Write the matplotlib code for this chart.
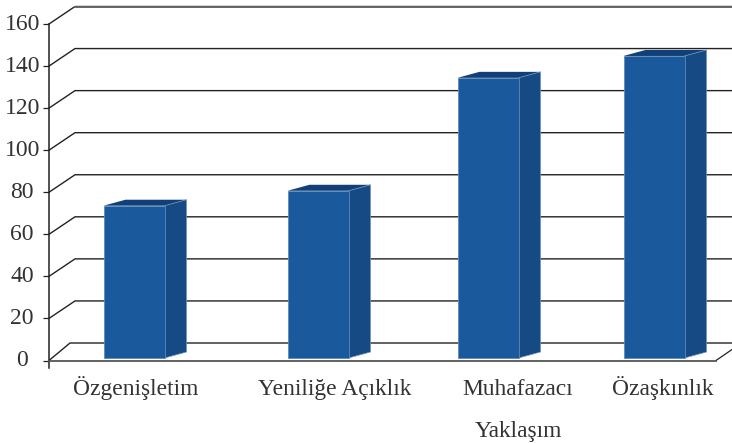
import matplotlib
matplotlib.use("Agg")
import matplotlib.pyplot as plt
from matplotlib.patches import Polygon, Rectangle
from matplotlib.transforms import ScaledTranslation

plt.rcParams['font.family'] = ['Liberation Serif', 'DejaVu Sans']

labels = ["Özgenişletim", "Yeniliğe Açıklık", "Muhafazacı", "Özaşkınlık"]
values = [73.6, 80.7, 134.4, 144.8]
y_ticks = [0, 20, 40, 60, 80, 100, 120, 140, 160]
x_title = "Yaklaşım"

# layout, in pixels of the 732x443 picture
W, H = 732, 443
left, right, y0, y160 = 49, 716, 360.5, 24
bar_x = [134, 318, 488, 654]
label_x = [135.5, 335, 517.5, 663]
bar_w = 61
side_dx, side_dy = 22, 6
back_dx, back_dy = 26, 17.5

fig = plt.figure(figsize=(W / 100, H / 100), dpi=100)
ax = fig.add_axes([left / W, 1 - y0 / H, (right - left) / W, (y0 - y160) / H])
ax.set_xlim(left, right)
ax.set_ylim(0, 160)
ppu = (y0 - y160) / 160  # pixels per y unit

for s in ['top', 'right']:
    ax.spines[s].set_visible(False)
ax.spines['left'].set_color('#222222')
ax.spines['left'].set_linewidth(1.1)
ax.spines['bottom'].set_color('#555555')
ax.spines['bottom'].set_linewidth(1.3)
ax.set_xticks([])
ax.set_yticks(y_ticks)
ax.tick_params(axis='y', length=4.3, width=0.9, color='#222222', pad=15,
               labelsize=17, labelcolor='#333333')
ax.set_facecolor('none')

# tick labels are centred on each other in the reference, and sit a bit high
up = ScaledTranslation(0, 1.5 / 72, fig.dpi_scale_trans)
for tl in ax.get_yticklabels():
    tl.set_ha('center')
    tl.set_transform(tl.get_transform() + up)

# back wall lines
for t in y_ticks:
    dx = 21 if t == 0 else back_dx
    by = t + back_dy / ppu
    ax.plot([left, left + dx, W], [t, by, by], color='#222222', lw=1.0,
            solid_joinstyle='miter', clip_on=False, zorder=1)
    if t == 160:
        ax.plot([left + dx, W], [by, by], color='#666666', lw=1.4, clip_on=False, zorder=1)

# floor right edge and axis stub under zero
ax.plot([right, W], [0, 11 / ppu], color='#222222', lw=0.9, clip_on=False, zorder=1)
ax.plot([left, left], [0, -7 / ppu], color='#222222', lw=1.1, clip_on=False, zorder=1)

base = 2.5 / ppu
for cx, v in zip(bar_x, values):
    x0 = cx - bar_w / 2
    x1 = cx + bar_w / 2
    sy = side_dy / ppu
    ax.add_patch(Polygon([(x0, v), (x0 + side_dx, v + sy), (x1 + side_dx, v + sy), (x1, v)],
                         closed=True, facecolor='#113f78', edgecolor='none', clip_on=False, zorder=3))
    ax.add_patch(Polygon([(x1, base), (x1 + side_dx, base + sy), (x1 + side_dx, v + sy), (x1, v)],
                         closed=True, facecolor='#154a85', edgecolor='#6f93bb', lw=0.5,
                         clip_on=False, zorder=3))
    ax.add_patch(Rectangle((x0, base), bar_w, v - base, facecolor='#1a5a9c',
                           edgecolor='#5f8ab8', lw=0.6, clip_on=False, zorder=4))

for lx, lab in zip(label_x, labels):
    ax.annotate(lab, xy=(lx, 0), xycoords=('data', 'data'), xytext=(0, -(395 - y0) * 0.72),
                textcoords='offset points', ha='center', va='baseline',
                fontsize=16.9, color='#333333', annotation_clip=False)
ax.annotate(x_title, xy=(518, 0), xycoords=('data', 'data'), xytext=(0, -(437 - y0) * 0.72),
            textcoords='offset points', ha='center', va='baseline',
            fontsize=16.9, color='#333333', annotation_clip=False)

fig.savefig("out.png", dpi=100)
